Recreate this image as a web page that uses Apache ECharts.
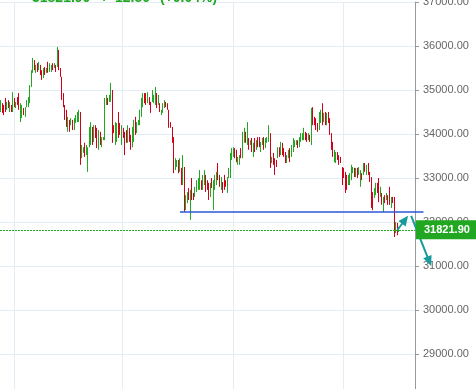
<!DOCTYPE html>
<html><head><meta charset="utf-8">
<script src="https://cdn.jsdelivr.net/npm/echarts@6/dist/echarts.min.js"></script>
<style>html,body{margin:0;padding:0;background:#fff}#c{width:476px;height:389px}</style>
</head><body><div id="c"></div>
<script>
const opens = [
34570,34650,34600,34750,34580,34720,34550,34620,34560,34780,
34620,34800,34880,34320,34400,34560,34430,34640,34650,34760,
35120,35430,35640,35420,35570,35480,35530,35410,35310,35480,
35410,35590,35450,35440,35580,35520,35540,35570,35850,35460,
35240,34880,34600,34480,34100,34270,34230,34270,34140,34280,
34310,34320,34400,33500,33590,33750,33560,33300,33760,33820,
34100,33870,34160,34080,33700,34000,33730,33870,33950,34690,
34800,34750,34790,34900,34170,33820,33870,34430,34200,33800,
34100,33990,34050,33850,34100,33930,33760,33880,34340,34050,
34220,34250,34450,34650,34900,34890,34740,34810,34690,34770,
34730,34720,34880,34690,34670,34450,34510,34620,34710,34680,
34480,34250,34110,33860,33220,33270,33370,33180,33180,32900,
33150,32300,32470,32730,32300,32940,32640,32600,32720,32760,
32790,32920,32770,32890,33020,32920,32840,32610,32970,32360,
32770,32880,33290,33030,32770,32880,33020,32930,32700,33030,
33070,33440,33500,33650,33600,33320,33330,33650,33520,33840,
34010,33820,33880,33770,33870,33520,33870,33670,33900,33900,
33620,33770,33890,33710,33820,33870,33930,33360,33530,33400,
33390,33480,33670,33560,33760,33650,33560,33370,33480,33640,
33520,33630,33720,33770,33840,33730,33850,33880,33900,34020,
33990,33880,33950,33850,34550,34360,34320,34220,34150,34290,
34630,34300,34460,34240,34460,34310,33970,33770,33400,33380,
33560,33490,33460,33200,33200,33080,33020,32870,32880,33000,
33130,33200,33050,33200,33100,32850,33090,33100,33310,33100,
33300,33110,32950,32630,32580,32650,32860,32930,32600,32620,
32270,32580,32520,32580,32750,32350,32550,32500,31780,31950,31790
];
const closes = [
34700,34530,34480,34560,34700,34620,34680,34530,34880,34650,
34700,34700,34600,34620,34600,34460,34570,34740,34800,35050,
35400,35680,35500,35540,35450,35600,35380,35270,35460,35380,
35480,35430,35570,35540,35480,35590,35440,35900,35500,35340,
34830,34660,34370,34220,34330,34100,34330,34130,34310,34400,
34450,34500,33400,33680,33680,33520,33700,33620,34100,34200,
33800,34150,33950,33740,34030,33800,33890,33920,34720,34850,
34690,34860,35100,33900,34050,34200,34200,33980,34020,34150,
33950,33590,33840,34150,33860,33680,34100,34260,34030,34240,
34300,34500,34760,34890,34740,34700,34910,34690,34520,34960,
34860,35000,34640,34850,34530,34530,34660,34740,34630,34580,
34200,34160,33850,33200,33410,33390,33150,33410,32880,33450,
32300,32560,32640,32540,32680,32560,32520,32770,32910,32960,
33120,32760,33020,33130,32730,32760,32550,32850,32800,32870,
33020,33100,33000,32840,32980,32690,32770,32820,32970,33200,
33500,33640,33670,33480,33400,33450,33480,33480,33980,34100,
33840,34200,33670,33840,33630,33760,33630,33830,33730,33730,
33790,33890,33680,33880,33910,34150,33320,33460,33340,33120,
33270,33670,33510,33780,33560,33510,33370,33500,33610,33400,
33710,33870,33840,33840,33700,33900,33990,34000,34100,33890,
33850,34000,33850,34500,34250,34230,34130,34080,34440,34500,
34270,34450,34240,34440,34290,34030,33690,33520,33600,33560,
33440,33330,33360,32890,33030,32710,32770,33040,33070,33250,
33230,33050,33200,33030,33230,33130,32970,33300,33170,33270,
33100,32940,32400,32320,32740,32850,32690,32520,32770,32420,
32520,32460,32640,32420,32440,32540,32450,31750,31960,31730,31821.9
];
const lows = [
34500,34480,34430,34500,34550,34590,34500,34500,34500,34610,
34590,34660,34550,34270,34360,34430,34390,34610,34610,34700,
35070,35390,35450,35390,35410,35450,35340,35230,35270,35340,
35390,35390,35410,35410,35450,35500,35410,35520,35450,35300,
34770,34610,34320,34160,34050,34050,34200,34090,34090,34250,
34270,34270,33300,33450,33570,33480,33520,33140,33700,33750,
33750,33820,33910,33680,33640,33750,33700,33860,33860,34660,
34660,34730,34730,33800,34020,33750,33820,33910,33980,33750,
33910,33520,33800,33800,33820,33640,33700,33820,33980,34020,
34200,34200,34390,34610,34700,34660,34700,34660,34480,34730,
34700,34660,34590,34660,34500,34430,34480,34590,34610,34550,
34140,34140,33800,33110,33180,33250,33110,33140,32840,32840,
32230,32270,32430,32500,32050,32500,32500,32570,32680,32730,
32730,32730,32730,32840,32680,32730,32500,32570,32770,32270,
32730,32840,32950,32800,32730,32660,32730,32800,32660,33000,
33000,33410,33480,33450,33360,33300,33300,33450,33450,33800,
33800,33750,33640,33750,33590,33480,33590,33640,33700,33700,
33590,33750,33640,33680,33800,33820,33230,33340,33300,33070,
33250,33450,33480,33520,33520,33480,33340,33340,33450,33360,
33480,33590,33700,33750,33680,33700,33820,33860,33860,33860,
33820,33860,33820,33750,34200,34200,34090,34050,34090,34250,
34200,34270,34200,34200,34250,33980,33640,33480,33360,33340,
33410,33300,33340,32840,33000,32660,32730,32840,32840,32950,
33110,33020,33020,33000,33070,32800,32950,33070,33140,33070,
33070,32910,32320,32270,32550,32610,32660,32450,32570,32390,
32230,32430,32500,32390,32390,32320,32430,31660,31750,31700,31770
];
const highs = [
34770,34700,34660,34820,34730,34770,34730,34660,34950,34820,
34730,34840,34930,34700,34660,34590,34610,34770,34840,35110,
35450,35730,35680,35570,35610,35640,35570,35450,35500,35520,
35500,35640,35610,35570,35610,35610,35570,35980,35910,35500,
35300,34930,34660,34550,34390,34320,34360,34320,34360,34430,
34500,34550,34500,33750,33700,33800,33750,33700,34160,34270,
34160,34200,34200,34140,34090,34050,33930,33930,34820,34890,
34820,34890,35160,35000,34200,34270,34250,34500,34250,34200,
34140,34050,34090,34200,34140,33980,34160,34320,34390,34270,
34320,34550,34820,34930,34930,34930,34950,34840,34730,35000,
34890,35070,34930,34890,34700,34550,34700,34770,34730,34700,
34550,34270,34160,33930,33450,33410,33410,33450,33230,33520,
33250,32610,32680,32770,32730,33000,32660,32800,32950,33000,
33180,32950,33070,33180,33070,32950,32890,32890,33000,32950,
33070,33140,33340,33070,33020,32910,33070,32950,33020,33230,
33570,33680,33700,33680,33640,33480,33520,33680,34050,34140,
34050,34270,33910,33860,33910,33800,33910,33860,33930,33930,
33820,33910,33930,33910,33930,34200,34020,33480,33570,33450,
33410,33700,33700,33820,33800,33680,33590,33520,33640,33680,
33750,33910,33860,33860,33860,33930,34020,34020,34140,34050,
34020,34020,33980,34590,34610,34390,34360,34250,34500,34550,
34700,34480,34500,34480,34500,34360,34020,33820,33640,33590,
33590,33520,33480,33250,33230,33140,33070,33070,33110,33300,
33250,33230,33230,33230,33250,33180,33110,33340,33340,33300,
33340,33140,33020,32680,32770,32890,32890,33000,32800,32660,
32570,32610,32660,32610,32800,32570,32570,32570,32000,31980,31890
];
const totalSlots = 271;
const yMin = 28000, yMax = 37000, yStep = 1000;
const lastPrice = 31821.90;
const supportLevel = 32227;
const headline = ['31821.90', '+', '12.50', '(+0.04%)'];

const UP = '#22a722', DOWN = '#d0021b', TEAL = '#179b9b', GRID = '#e3edf5';
const FONT = '"Liberation Sans", Arial, sans-serif';
const gridCols = [9, 80, 152, 224];

const categories = Array.from({length: totalSlots}, (_, i) => String(i));
const candleData = opens.map((o, i) => [o, closes[i], lows[i], highs[i]]);

const chart = echarts.init(document.getElementById('c'), null, {renderer: 'canvas'});
chart.setOption({
  animation: false,
  backgroundColor: '#fff',
  grid: {left: 0, right: 61, top: 2, height: 396, containLabel: false, outerBoundsMode: 'none'},
  xAxis: {
    type: 'category', data: categories, boundaryGap: true,
    axisLine: {show: false}, axisTick: {show: false}, axisLabel: {show: false},
    splitLine: {show: true, interval: (idx) => gridCols.indexOf(idx) >= 0, lineStyle: {color: GRID, width: 1}}
  },
  yAxis: {
    type: 'value', position: 'right', min: yMin, max: yMax, interval: yStep,
    axisLine: {show: true, lineStyle: {color: '#999', width: 1}},
    axisTick: {show: true, length: 4, lineStyle: {color: '#999'}},
    axisLabel: {show: true, margin: 8, color: '#666', fontSize: 11, fontFamily: FONT,
      formatter: (v) => v.toFixed(2)},
    splitLine: {show: true, lineStyle: {color: GRID, width: 1}}
  },
  series: [{
    type: 'candlestick',
    data: candleData,
    barWidth: 1,
    itemStyle: {color: UP, color0: DOWN, borderColor: UP, borderColor0: DOWN, borderWidth: 1}
  }]
});

const px = (i, v) => chart.convertToPixel({xAxisIndex: 0, yAxisIndex: 0}, [i, v]);
function arrow(p0, p1, head) {
  const dx = p1[0] - p0[0], dy = p1[1] - p0[1], len = Math.hypot(dx, dy);
  const ux = dx / len, uy = dy / len;
  const bx = p1[0] - ux * head, by = p1[1] - uy * head;
  const nx = -uy, ny = ux, w = head * 0.45;
  return [
    {type: 'line', z: 10, shape: {x1: p0[0], y1: p0[1], x2: bx + ux, y2: by + uy}, style: {stroke: TEAL, lineWidth: 2}},
    {type: 'polygon', z: 10, shape: {points: [[p1[0], p1[1]], [bx + nx * w, by + ny * w], [bx - nx * w, by - ny * w]]}, style: {fill: TEAL}}
  ];
}
const s0 = px(117, supportLevel), s1 = px(276, supportLevel);
const lp = px(260, lastPrice);
const left0 = px(0, lastPrice)[0] - 415 / totalSlots / 2;
const axisX = px(totalSlots - 1, lastPrice)[0] + 415 / totalSlots / 2;
const ly = Math.round(lp[1]) + 0.5;
const elems = [
  {type: 'line', z: 8, shape: {x1: left0, y1: ly, x2: axisX, y2: ly}, style: {stroke: UP, lineWidth: 1, lineDash: [2, 1]}},
  {type: 'line', z: 9, shape: {x1: s0[0], y1: s0[1], x2: s1[0], y2: s1[1]}, style: {stroke: '#2b57d9', lineWidth: 1.5}},
  ...arrow(px(259, 31818), px(266, 32140), 10),
  ...arrow(px(268, 32140), px(281, 31000), 10),
  {type: 'rect', z: 20, shape: {x: axisX + 1, y: lp[1] - 9.5, width: 80, height: 19}, style: {fill: UP}},
  {type: 'text', z: 21, x: axisX + 9, y: lp[1], style: {text: lastPrice.toFixed(2), fill: '#fff', font: 'bold 11px ' + FONT, verticalAlign: 'middle'}},
  {type: 'text', z: 21, x: 32, y: 5, style: {text: headline[0], fill: UP, font: 'bold 14px ' + FONT, verticalAlign: 'bottom'}},
  {type: 'text', z: 21, x: 100, y: 5, style: {text: headline[1], fill: UP, font: 'bold 14px ' + FONT, verticalAlign: 'bottom'}},
  {type: 'text', z: 21, x: 115, y: 5, style: {text: headline[2], fill: UP, font: 'bold 14px ' + FONT, verticalAlign: 'bottom'}},
  {type: 'text', z: 21, x: 160, y: 5, style: {text: headline[3], fill: UP, font: 'bold 14px ' + FONT, verticalAlign: 'bottom'}}
];
chart.setOption({graphic: {elements: elems}});
</script></body></html>
